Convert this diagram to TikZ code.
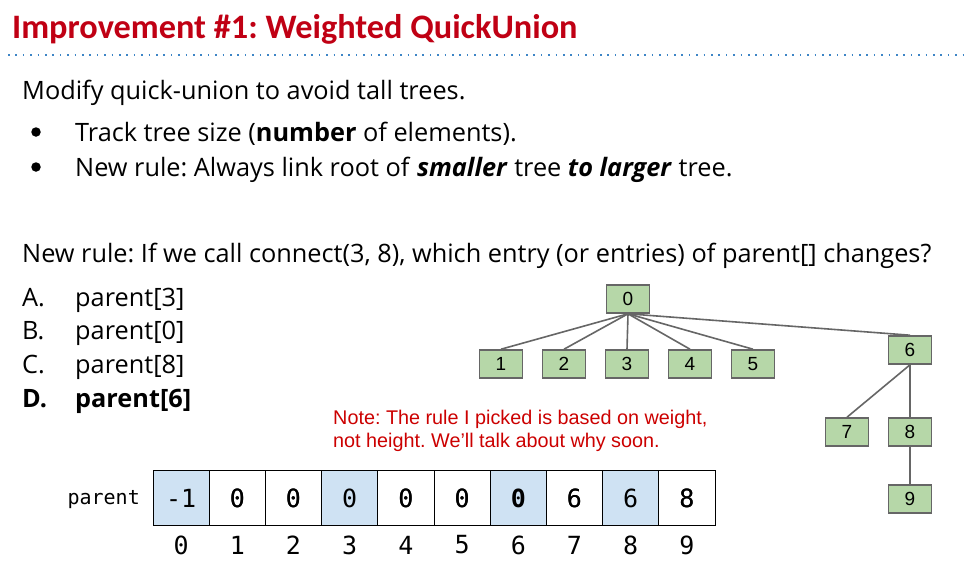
\documentclass[tikz,border=0pt]{standalone}
\usepackage{fontspec}
\setmainfont{Open Sans}
\newfontfamily\titlefont{Carlito}
\newfontfamily\arialfont{Liberation Sans}
\newfontfamily\monofont{DejaVu Sans Mono}
\definecolor{titlered}{RGB}{192,0,20}
\definecolor{notered}{RGB}{204,0,0}
\definecolor{dotblue}{RGB}{61,133,198}
\definecolor{treegreen}{RGB}{182,215,168}
\definecolor{treegray}{RGB}{102,102,102}
\definecolor{cellblue}{RGB}{207,226,243}
\begin{document}
\frenchspacing
\begin{tikzpicture}[x=1pt,y=-1pt,
  txt/.style={anchor=base west,inner sep=0pt,font=\fontsize{25.3}{28}\selectfont},
  bul/.style={circle,fill=black,inner sep=0pt,minimum size=9.5pt},
  tnode/.style={draw=treegray,line width=1.6pt,fill=treegreen,minimum width=43pt,minimum height=28pt,inner sep=0pt,font=\arialfont\fontsize{19}{19}\selectfont},
  tedge/.style={draw=treegray,line width=1.6pt},
  cell/.style={draw=black,line width=0.8pt,minimum width=56.2pt,minimum height=55pt,inner sep=0pt,font=\monofont\fontsize{25}{25}\selectfont},
  idx/.style={inner sep=0pt,font=\monofont\fontsize{25}{25}\selectfont},
  note/.style={anchor=base west,inner sep=0pt,text=notered,font=\arialfont\fontsize{19.8}{22}\selectfont}]
\useasboundingbox[fill=white] (0,0) rectangle (973,568);
% title
\node[anchor=base west,inner sep=0pt,text=titlered,font=\titlefont\bfseries\fontsize{34.3}{36}\selectfont] (title) at (12,38) {Improvement \#1: Weighted QuickUnion};
\coordinate (dl) at (8,55);
\coordinate (dr) at (966,55);
\draw[dotblue,line width=1.5pt,dash pattern=on 1.5pt off 5.9pt] (dl) -- (dr);
% body text
\node[txt] (t1) at (22,99) {Modify quick-union to avoid tall trees.};
\node[bul] (b1) at (36,132) {};
\node[txt] (t2) at (75,141) {Track tree size (\textbf{number} of elements).};
\node[bul] (b2) at (36,167) {};
\node[txt] (t3) at (75,176) {New rule: Always link root of \textbf{\textit{smaller}} tree \textbf{\textit{to larger}} tree.};
\node[txt] (q) at (22,262) {New rule: If we call connect(3, 8), which entry (or entries) of parent[] changes?};
\node[txt] (la) at (22,306) {A.};
\node[txt] (a) at (75,306) {parent[3]};
\node[txt] (lb) at (22,339) {B.};
\node[txt] (b) at (75,339) {parent[0]};
\node[txt] (lc) at (22,373) {C.};
\node[txt] (c) at (75,373) {parent[8]};
\node[txt,font=\fontsize{25.3}{28}\selectfont\bfseries] (ld) at (22,407) {D.};
\node[txt,font=\fontsize{25.3}{28}\selectfont\bfseries] (d) at (75,407) {parent[6]};
% note
\node[note] (n1) at (333,424) {Note: The rule I picked is based on weight,};
\node[note] (n2) at (333,447) {not height. We’ll talk about why soon.};
% tree
\node[tnode] (n0) at (628,299) {0};
\node[tnode] (k1) at (501,364) {1};
\node[tnode] (k2) at (564,364) {2};
\node[tnode] (k3) at (627,364) {3};
\node[tnode] (k4) at (690,364) {4};
\node[tnode] (k5) at (753,364) {5};
\node[tnode] (k6) at (910,350) {6};
\node[tnode] (k7) at (847,432) {7};
\node[tnode] (k8) at (910,432) {8};
\node[tnode] (k9) at (910,499) {9};
\foreach \c in {k1,k2,k3,k4,k5,k6} \draw[tedge] (n0.south) -- (\c.north);
\draw[tedge] (k6.south) -- (k7.north);
\draw[tedge] (k6.south) -- (k8.north);
\draw[tedge] (k8.south) -- (k9.north);
% array
\node[anchor=base east,inner sep=0pt,font=\monofont\fontsize{20}{20}\selectfont] (plabel) at (140,504) {parent};
\foreach \v [count=\i from 0] in {-1,0,0,0,0,0,\textbf{0},6,6,8} {
  \pgfmathsetmacro{\cx}{153+56.2*(\i+0.5)}
  \node[cell] (c\i) at (\cx,498) {\v};
  \node[idx] (i\i) at (\cx,545) {\i};
}
\foreach \i in {0,3,6,8} \fill[cellblue] (c\i.south west) rectangle (c\i.north east);
\foreach \v [count=\i from 0] in {-1,0,0,0,0,0,\textbf{0},6,6,8} {
  \node[cell,fill=none] at (c\i) {\v};
}
\end{tikzpicture}
\end{document}
